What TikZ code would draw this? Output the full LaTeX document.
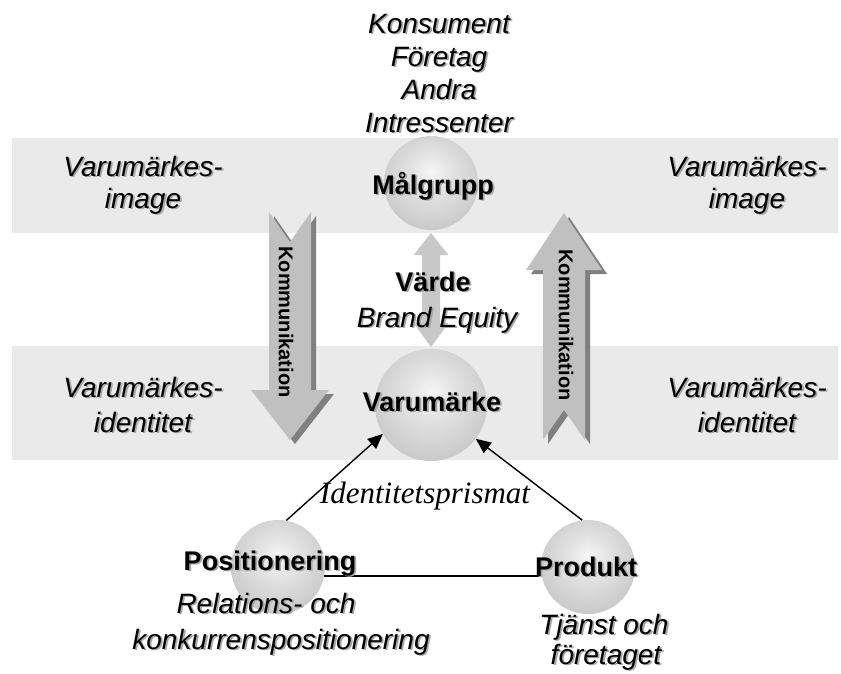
\documentclass[tikz,border=0pt]{standalone}
\usepackage{fontspec}
\setmainfont{Liberation Sans}
\newfontfamily\timesfont{Liberation Serif}
\usetikzlibrary{arrows.meta}

\definecolor{band}{HTML}{EAEAEA}
\definecolor{arrowfill}{HTML}{C0C0C0}
\definecolor{arrowshade}{HTML}{808080}
\definecolor{midarrow}{HTML}{C8C8C8}
\definecolor{txtshade}{HTML}{A8A8A8}
\definecolor{sphA}{HTML}{F6F6F6}
\definecolor{sphB}{HTML}{E4E4E4}
\definecolor{sphC}{HTML}{C4C4C4}
\definecolor{sphD}{HTML}{AAAAAA}

% soft sphere look for the round nodes
\pgfdeclareradialshading{sphere}{\pgfpoint{0bp}{6bp}}{%
  color(0bp)=(sphA); color(10bp)=(sphB); color(32bp)=(sphC);
  color(50bp)=(sphD); color(72bp)=(sphD)}

% text with a soft drop shadow: name, position, style, text
\newcommand\shtext[4]{%
  \node[lbl,#3] (#1) at (#2)
    {\rlap{\kern1.8pt\raisebox{-1.8pt}{\color{txtshade}#4}}#4};}

\begin{document}
\begin{tikzpicture}[x=1pt,y=-1pt,
  lbl/.style={anchor=base,inner sep=0pt},
  it/.style={font=\fontsize{28}{32}\selectfont\itshape},
  bf/.style={font=\fontsize{27}{32}\selectfont\bfseries},
  serif/.style={font=\fontsize{31}{36}\selectfont\timesfont\itshape},
  ball/.style={circle,inner sep=0pt,shading=sphere},
  kom/.style={font=\fontsize{20}{22}\selectfont\bfseries,inner sep=0pt,rotate=-90},
  conn/.style={line width=1.4pt,-{Triangle[length=15pt,width=13pt]}}]

\useasboundingbox (0,0) rectangle (841,673);
\fill[white] (0,0) rectangle (841,673);

% horizontal bands
\fill[band] (12,138) rectangle (838,233);
\fill[band] (12,346) rectangle (838,460);

% double arrow between target group and brand
\fill[midarrow] (431,233) -- (448.5,255) -- (440,255) -- (440,323) -- (448.5,323)
  -- (431,347) -- (413.5,323) -- (422,323) -- (422,255) -- (413.5,255) -- cycle;

% downward communication arrow
\begin{scope}[shift={(5,4)}]
  \fill[arrowshade] (269,212) -- (290,242) -- (311,212) -- (311,390) -- (329,390)
    -- (290,440) -- (251,390) -- (269,390) -- cycle;
\end{scope}
\fill[arrowfill] (269,212) -- (290,242) -- (311,212) -- (311,390) -- (329,390)
  -- (290,440) -- (251,390) -- (269,390) -- cycle;
\node[kom] (k1) at (286,322) {Kommunikation};

% upward communication arrow
\begin{scope}[shift={(5,4)}]
  \fill[arrowshade] (564,213) -- (602,270) -- (585,270) -- (585,440) -- (564,410)
    -- (543,440) -- (543,270) -- (526,270) -- cycle;
\end{scope}
\fill[arrowfill] (564,213) -- (602,270) -- (585,270) -- (585,440) -- (564,410)
  -- (543,440) -- (543,270) -- (526,270) -- cycle;
\node[kom] (k2) at (566,325) {Kommunikation};

% spheres
\node[ball,minimum size=94pt] (mal) at (431,183) {};
\node[ball,minimum size=112pt] (var) at (431,405) {};
\node[ball,minimum size=94pt] (pos) at (278,567) {};
\node[ball,minimum size=94pt] (prod) at (588,567) {};

% identity prism
\draw[conn] (pos.80) -- (var.211);
\draw[conn] (prod.97) -- (var.323);
\draw[line width=1.4pt] (pos.-11) -- (prod.191);

% stakeholder list
\shtext{t1}{439,33}{it}{Konsument}
\shtext{t2}{439,66}{it}{Företag}
\shtext{t3}{439,99}{it}{Andra}
\shtext{t4}{439,132}{it}{Intressenter}

% side labels
\shtext{li1}{143,176}{it}{Varumärkes-}
\shtext{li2}{143,208}{it}{image}
\shtext{ri1}{747,176}{it}{Varumärkes-}
\shtext{ri2}{747,208}{it}{image}
\shtext{ld1}{143,397}{it}{Varumärkes-}
\shtext{ld2}{143,432}{it}{identitet}
\shtext{rd1}{747,397}{it}{Varumärkes-}
\shtext{rd2}{747,432}{it}{identitet}

% central labels
\shtext{lmal}{433,194}{bf}{Målgrupp}
\shtext{lvarde}{433,291}{bf}{Värde}
\shtext{lbe}{437,327}{it}{Brand Equity}
\shtext{lvar}{432,411}{bf}{Varumärke}
\node[lbl,serif] (lid) at (425,503) {Identitetsprismat};
\shtext{lpos}{270,570}{bf}{Positionering}
\shtext{lprod}{586,576}{bf}{Produkt}
\shtext{lr1}{266,613}{it}{Relations- och}
\shtext{lr2}{281,649}{it}{konkurrenspositionering}
\shtext{lt1}{604,634}{it}{Tjänst och}
\shtext{lt2}{606,664}{it}{företaget}
\end{tikzpicture}
\end{document}
